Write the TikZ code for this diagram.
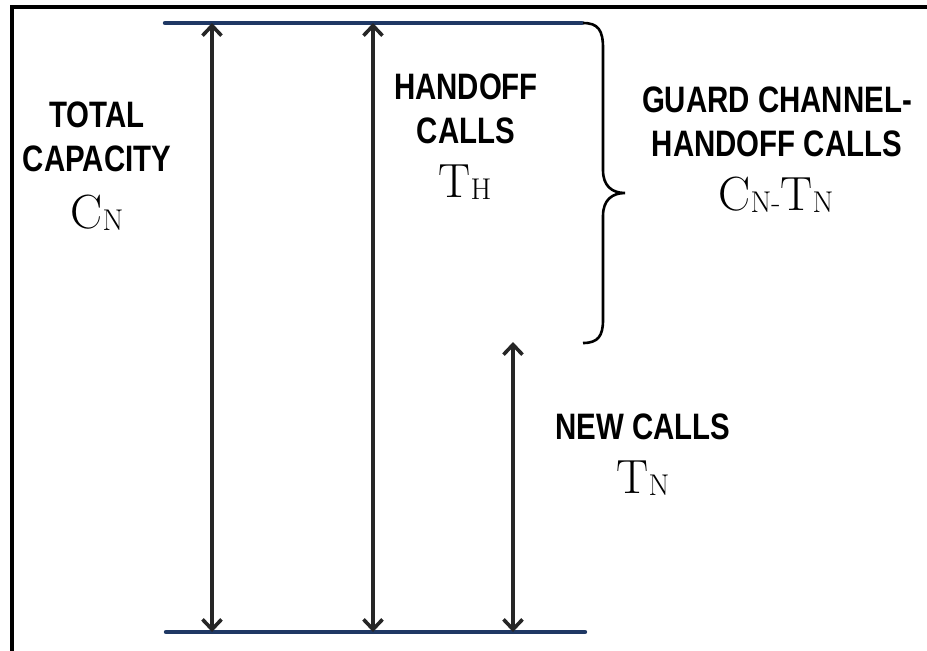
\documentclass[tikz,border=0pt]{standalone}
\usepackage{fontspec}
\usetikzlibrary{arrows.meta,positioning}
\newfontfamily\labelfont[FakeStretch=0.8]{Liberation Sans}
\definecolor{levelblue}{RGB}{31,56,100}
\definecolor{arrowgray}{RGB}{38,38,38}
\newcommand{\lowsub}[1]{{\fontsize{15}{18}\selectfont\raisebox{-1pt}{#1}}}

\begin{document}
\begin{tikzpicture}[
  x=0.5pt,
  y=-0.5pt,
  heading/.style={
    font=\labelfont\bfseries\fontsize{18.4}{22}\selectfont,
    align=center,
    inner sep=0pt
  },
  quantity/.style={
    font=\fontsize{24}{28}\selectfont,
    anchor=base,
    inner sep=0pt
  },
  levelline/.style={draw=levelblue,line width=2.2pt,line cap=round},
  spanarrow/.style={
    {Straight Barb[length=5pt,width=9.5pt]}-{Straight Barb[length=5pt,width=9.5pt]},
    draw=arrowgray,
    line width=1.8pt
  },
  gbrace/.style={draw=black,line width=1.3pt}
]
  \useasboundingbox (0,0) rectangle (927,650);

  % Frame: left and top edges only.
  \draw[line width=2pt] (11.5,660) -- (11.5,6.5) -- (940,6.5);

  % Capacity levels.
  \coordinate (topleft) at (165,23);
  \coordinate (topright) at (582,23);
  \coordinate (botleft) at (166,632);
  \coordinate (botright) at (585,632);
  \draw[levelline] (topleft) -- (topright);
  \draw[levelline] (botleft) -- (botright);

  \coordinate (totaltop) at (212,23);
  \coordinate (totalbot) at (212,632);
  \coordinate (handofftop) at (373,23);
  \coordinate (handoffbot) at (373,632);
  \coordinate (newtop) at (513,342);
  \coordinate (newbot) at (513,632);

  \draw[spanarrow] (totaltop) -- (totalbot);
  \draw[spanarrow] (handofftop) -- (handoffbot);
  \draw[spanarrow] (newtop) -- (newbot);

  % Guard band brace.
  \draw[gbrace] (583,23) .. controls (598,23) and (603,30) .. (603,48)
    -- (603,170) .. controls (603,186) and (612,193) .. (625,193)
    .. controls (612,193) and (603,200) .. (603,216)
    -- (603,320) .. controls (603,336) and (598,343) .. (583,343);

  % Labels.
  \node[heading] (total) at (97,137) {TOTAL\\CAPACITY};
  \node[quantity] (cn) at (97,228) {C\lowsub{N}};

  \node[heading] (handoff) at (466,109) {HANDOFF\\CALLS};
  \node[quantity] (th) at (465,197) {T\lowsub{H}};

  \node[heading] (guard) at (777,122) {GUARD CHANNEL-\\HANDOFF CALLS};
  \node[quantity] (cntn) at (776,210) {C\lowsub{N-}T\lowsub{N}};

  \node[heading] (newcalls) at (643,426.5) {NEW CALLS};
  \node[quantity] (tn) at (643,493) {T\lowsub{N}};
\end{tikzpicture}
\end{document}
